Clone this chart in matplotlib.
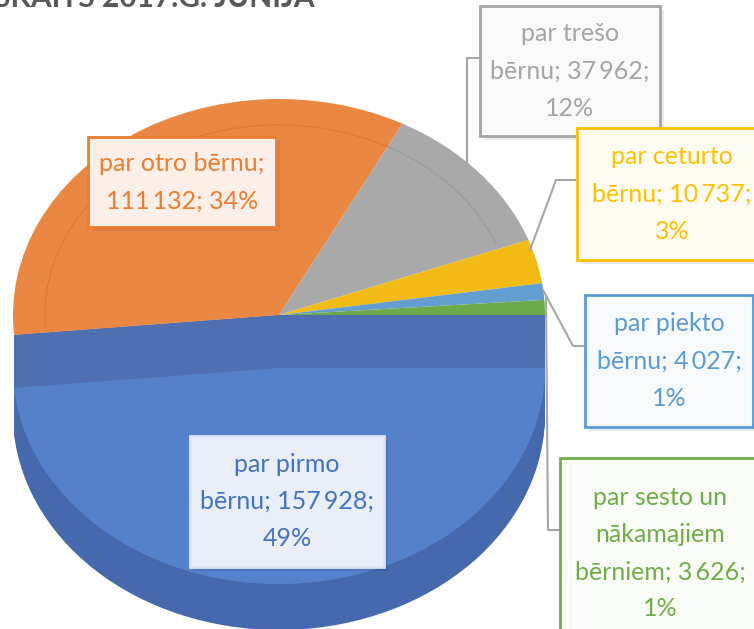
import matplotlib.pyplot as plt
from matplotlib.patches import Rectangle, Arc
from matplotlib.lines import Line2D

# dati
names = ["par pirmo\nbērnu", "par otro bērnu", "par trešo\nbērnu", "par ceturto\nbērnu",
         "par piekto\nbērnu", "par sesto un\nnākamajiem\nbērniem"]
counts = [157928, 111132, 37962, 10737, 4027, 3626]
# kur likt rindu pārnesumu: pēc nosaukuma / pēc skaita
breaks = [("; ", ";\n"), (";\n", "; "), ("; ", ";\n"), ("; ", ";\n"), ("; ", ";\n"), ("; ", ";\n")]
face_colors = ["#5581CB", "#EA8843", "#A9A9A9", "#F3BB16", "#629ECF", "#6CAA4B"]
text_colors = ["#4472C4", "#ED7D31", "#A5A5A5", "#FFC000", "#5B9BD5", "#70AD47"]
box_fill = ["#E9EEF8", "#FBEFE7", "#FAFAFA", "#FFFCF3", "#F7FAFD", "#FAFCF8"]
box_edge = ["#DCE4F3", "#ED7D31", "#A5A5A5", "#FFC000", "#5B9BD5", "#70AD47"]
title = "SKAITS 2017.G. JŪNIJĀ"

W, H = 754, 629
FONT = ["Lato", "DejaVu Sans"]


def fx(x):
    return x / W


def fy(y):
    return 1 - y / H


def make_label(i):
    total = sum(counts)
    num = f"{counts[i]:,}".replace(",", "\u2009")
    pct = round(100 * counts[i] / total)
    return f"{names[i]}{breaks[i][0]}{num}{breaks[i][1]}{pct}%"


fig = plt.figure(figsize=(W / 100, H / 100), dpi=100)
ax = fig.add_axes([0, 0, 1, 1])

cx, cy, rx, ry = 279, 315, 266, 216
shift = 53 / ry
wall = 46 / ry


def blue_wedge(offset, color, zorder, clip=None):
    wedges, _ = ax.pie(counts, colors=face_colors, startangle=0, counterclock=False,
                       center=(0, -offset), radius=1, wedgeprops=dict(linewidth=0))
    for w in wedges[1:]:
        w.remove()
    wedges[0].set_facecolor(color)
    wedges[0].set_zorder(zorder)
    if clip is not None:
        wedges[0].set_clip_path(clip)


# sānu siena
n = 30
for k in range(n + 1):
    blue_wedge(shift + wall * k / n, "#4668AC", 1)

# josla starp daļām
left_clip = Rectangle((-3, -3), 3, 6, transform=ax.transData)
for k in range(n + 1):
    blue_wedge(shift * k / n, "#4374B7", 2)
for k in range(n + 1):
    blue_wedge(shift * k / n, "#4F6FB1", 2.5, clip=left_clip)

# augšējā virsma
blue_wedge(shift, face_colors[0], 3)
wedges, _ = ax.pie(counts, colors=face_colors, startangle=0, counterclock=False,
                   center=(0, 0), radius=1, wedgeprops=dict(linewidth=0))
wedges[0].remove()
for w in wedges[1:]:
    w.set_zorder(3)

# vāja iekšējā līnija
ax.add_patch(Arc((0, 0), 1.76, 1.76, theta1=62, theta2=184, color="#DE7935", lw=0.8, zorder=4))
ax.add_patch(Arc((0, 0), 1.76, 1.76, theta1=22, theta2=62, color="#9A9A9A", lw=0.8, zorder=4))

ax.set_aspect("auto")
ax.set_xlim(-cx / rx, (W - cx) / rx)
ax.set_ylim(-(H - cy) / ry, cy / ry)
ax.axis("off")

# līderlīnijas
leaders = [
    [(480, 58), (467, 58), (467, 170)],
    [(577, 180), (556, 180), (530, 250)],
    [(585, 346), (573, 346), (543, 290)],
    [(560, 530), (548, 530), (546, 298)],
]
for pts in leaders:
    xs = [fx(p[0]) for p in pts]
    ys = [fy(p[1]) for p in pts]
    fig.add_artist(Line2D(xs, ys, color="#A6A6A6", lw=1.5, zorder=5))

# etiķetes
boxes = [
    (190, 436, 194, 131),
    (88, 137, 188, 90),
    (480, 6, 180, 130),
    (577, 128, 190, 132),
    (585, 295, 168, 132),
    (560, 458, 200, 190),
]
for i, (bx, by, bw, bh) in enumerate(boxes):
    # ēna
    fig.add_artist(Rectangle((fx(bx + 4), fy(by + bh + 4)), bw / W, bh / H,
                             facecolor="#000000", alpha=0.08, edgecolor="none", zorder=6))
    fig.add_artist(Rectangle((fx(bx), fy(by + bh)), bw / W, bh / H,
                             facecolor=box_fill[i], edgecolor=box_edge[i], lw=2, zorder=7))
    fig.text(fx(bx + bw / 2), fy(by + bh / 2), make_label(i), ha="center", va="center",
             color=text_colors[i], fontsize=18, family=FONT, linespacing=1.75, zorder=8)

fig.text(fx(-6), fy(7), title, ha="left", va="baseline", fontsize=21.5, fontweight="bold",
         color="#595959", family=FONT)

fig.savefig("out.png", dpi=100)
